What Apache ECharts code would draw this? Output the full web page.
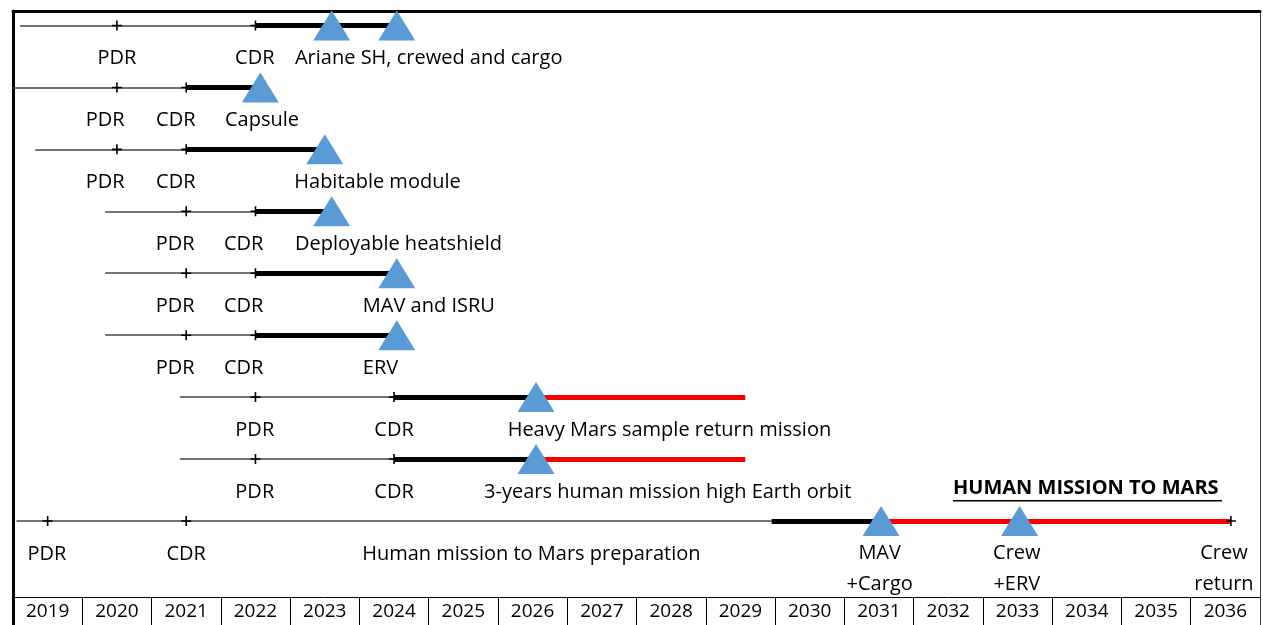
<!DOCTYPE html>
<html>
<head>
<meta charset="utf-8">
<script src="https://cdn.jsdelivr.net/npm/echarts@6/dist/echarts.min.js"></script>
<style>
html,body{margin:0;padding:0;background:#fff;}
#chart{width:1263px;height:625px;}
</style>
</head>
<body>
<div id="chart"></div>
<script>
// ---- data ----
const years = ['2019','2020','2021','2022','2023','2024','2025','2026','2027','2028','2029','2030','2031','2032','2033','2034','2035','2036'];
const programs = ['Ariane SH, crewed and cargo','Capsule','Habitable module','Deployable heatshield','MAV and ISRU','ERV','Heavy Mars sample return mission','3-years human mission high Earth orbit','Human mission to Mars preparation'];
const lineStart     = [2018.6, 2018.5, 2018.82, 2019.83, 2019.83, 2019.83, 2020.91, 2020.91, 2018.55];
const pdrYear       = [2020, 2020, 2020, 2021, 2021, 2021, 2022, 2022, 2019];
const cdrYear       = [2022, 2021, 2021, 2022, 2022, 2022, 2024, 2024, 2021];
const buildStart    = [2022, 2021, 2021, 2022, 2022, 2022, 2024, 2024, 2029.45];
const launchYear    = [2024.04, 2022.07, 2023.0, 2023.1, 2024.04, 2024.04, 2026.05, 2026.05, 2031.03];
const operationsEnd = [null, null, null, null, null, null, 2029.07, 2029.07, 2036.08];
const launches = [[2023.1,0],[2024.04,0],[2022.07,1],[2023.0,2],[2023.1,3],[2024.04,4],[2024.04,5],[2026.05,6],[2026.05,7],[2031.03,8],[2033.03,8]];
const endMarks = [[2036.08,8]];
const labels = [
  [2020.0,0,'PDR','center'],[2021.99,0,'CDR','center'],[2022.57,0,programs[0],'left'],
  [2019.83,1,'PDR','center'],[2020.85,1,'CDR','center'],[2021.56,1,programs[1],'left'],
  [2019.83,2,'PDR','center'],[2020.85,2,'CDR','center'],[2022.56,2,programs[2],'left'],
  [2020.84,3,'PDR','center'],[2021.83,3,'CDR','center'],[2022.57,3,programs[3],'left'],
  [2020.84,4,'PDR','center'],[2021.83,4,'CDR','center'],[2023.55,4,programs[4],'left'],
  [2020.84,5,'PDR','center'],[2021.83,5,'CDR','center'],[2023.55,5,programs[5],'left'],
  [2021.99,6,'PDR','center'],[2024.0,6,'CDR','center'],[2025.64,6,programs[6],'left'],
  [2021.99,7,'PDR','center'],[2024.0,7,'CDR','center'],[2025.3,7,programs[7],'left'],
  [2018.99,8,'PDR','center'],[2021.0,8,'CDR','center'],[2023.54,8,programs[8],'left'],
  [2031.01,8,'MAV\n+Cargo','center'],[2032.99,8,'Crew\n+ERV','center'],[2035.98,8,'Crew\nreturn','center']
];
const heading = 'HUMAN MISSION TO MARS';

// ---- build ----
const FONT = 'Open Sans';
const rowsIdx = programs.map((_, i) => i);
const thin = rowsIdx.map(i => ({coords: [[lineStart[i], i], [buildStart[i], i]]}));
const thick = rowsIdx.map(i => ({coords: [[buildStart[i], i], [launchYear[i], i]]}));
const red = rowsIdx.filter(i => operationsEnd[i] != null).map(i => ({coords: [[launchYear[i], i], [operationsEnd[i], i]]}));
const plusMarks = [];
rowsIdx.forEach(i => { plusMarks.push([pdrYear[i], i]); plusMarks.push([cdrYear[i], i]); });
endMarks.forEach(p => plusMarks.push(p));
const PLUS = 'path://M4.2,0H5.8V4.2H10V5.8H5.8V10H4.2V5.8H0V4.2H4.2Z';

const labelData = labels.map(l => {
  const multi = l[2].indexOf('\n') >= 0;
  return {
    value: [l[0], l[1]],
    label: {
      align: l[3],
      verticalAlign: multi ? 'top' : 'middle',
      offset: multi ? [0, 17] : [0, 33]
    }
  };
});

const chart = echarts.init(document.getElementById('chart'));
chart.setOption({
  animation: false,
  backgroundColor: '#fff',
  grid: [
    {left: 13, right: 3, top: 11, bottom: 28},
    {left: 13, right: 3, top: 597, bottom: 0}
  ],
  xAxis: [
    {gridIndex: 0, type: 'value', min: 2018.5, max: 2036.5, position: 'top',
     axisLine: {show: true, onZero: false, lineStyle: {color: '#000', width: 3}},
     axisTick: {show: false}, axisLabel: {show: false}, splitLine: {show: false}},
    {gridIndex: 1, type: 'category', data: years, position: 'top', boundaryGap: true,
     axisLine: {show: true, onZero: false, lineStyle: {color: '#000', width: 1}},
     axisTick: {show: false, interval: 0},
     axisLabel: {inside: true, interval: 0, margin: 5, fontSize: 19, color: '#000', fontFamily: FONT},
     splitLine: {show: true, interval: 0, lineStyle: {color: '#000', width: 1}}}
  ],
  yAxis: [
    {gridIndex: 0, type: 'value', min: -0.234, max: 9.227, inverse: true, position: 'left',
     axisLine: {show: true, onZero: false, lineStyle: {color: '#000', width: 3}},
     axisTick: {show: false}, axisLabel: {show: false}, splitLine: {show: false}},
    {gridIndex: 0, type: 'value', min: -0.234, max: 9.227, inverse: true, position: 'right',
     axisLine: {show: true, onZero: false, lineStyle: {color: '#444', width: 1}},
     axisTick: {show: false}, axisLabel: {show: false}, splitLine: {show: false}},
    {gridIndex: 1, type: 'value', min: 0, max: 1, position: 'left',
     axisLine: {show: true, onZero: false, lineStyle: {color: '#000', width: 3}},
     axisTick: {show: false}, axisLabel: {show: false}, splitLine: {show: false}},
    {gridIndex: 1, type: 'value', min: 0, max: 1, position: 'right',
     axisLine: {show: true, onZero: false, lineStyle: {color: '#444', width: 1}},
     axisTick: {show: false}, axisLabel: {show: false}, splitLine: {show: false}}
  ],
  series: [
    {type: 'lines', coordinateSystem: 'cartesian2d', xAxisIndex: 0, yAxisIndex: 0, z: 2,
     lineStyle: {color: '#444', width: 1.6, opacity: 1}, data: thin},
    {type: 'lines', coordinateSystem: 'cartesian2d', xAxisIndex: 0, yAxisIndex: 0, z: 3,
     lineStyle: {color: '#000', width: 5, opacity: 1}, data: thick},
    {type: 'lines', coordinateSystem: 'cartesian2d', xAxisIndex: 0, yAxisIndex: 0, z: 3,
     lineStyle: {color: '#ff0000', width: 5, opacity: 1}, data: red},
    {type: 'scatter', xAxisIndex: 0, yAxisIndex: 0, z: 4, symbol: PLUS, symbolSize: 10,
     itemStyle: {color: '#000', opacity: 1}, data: plusMarks, silent: true},
    {type: 'scatter', xAxisIndex: 0, yAxisIndex: 0, z: 5, symbol: 'triangle', symbolSize: [37, 30],
     itemStyle: {color: '#5b9bd5', opacity: 1}, data: launches, silent: true},
    {type: 'scatter', xAxisIndex: 0, yAxisIndex: 0, z: 6, symbolSize: 0, silent: true,
     itemStyle: {opacity: 1},
     label: {show: true, position: [0, 0], fontFamily: FONT, fontSize: 20, color: '#000', lineHeight: 31,
       formatter: p => labels[p.dataIndex][2]},
     data: labelData}
  ],
  graphic: [
    {type: 'text', left: 953, top: 478, z: 10,
     style: {text: heading, font: 'bold 20px "Open Sans"', fill: '#000'}},
    {type: 'rect', left: 953, top: 500, z: 10, shape: {width: 269, height: 1.5}, style: {fill: '#000'}}
  ]
});
</script>
</body>
</html>
